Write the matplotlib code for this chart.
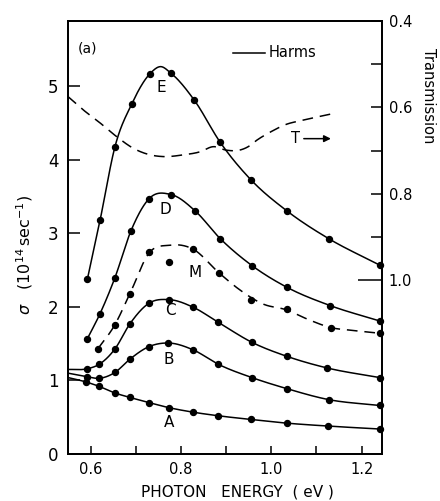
import numpy as np
import matplotlib
matplotlib.use("Agg")
import matplotlib.pyplot as plt

plt.rcParams['font.family'] = ['DejaVu Sans']

# ---- data ----
energy_A = [0.590, 0.619, 0.654, 0.687, 0.729, 0.774, 0.826, 0.883, 0.955, 1.034, 1.126, 1.240]
sigma_A = [0.98, 0.92, 0.83, 0.77, 0.70, 0.63, 0.57, 0.52, 0.47, 0.42, 0.38, 0.34]

energy_B = [0.593, 0.619, 0.654, 0.687, 0.729, 0.772, 0.826, 0.883, 0.957, 1.034, 1.127, 1.240]
sigma_B = [1.05, 1.03, 1.11, 1.29, 1.46, 1.51, 1.42, 1.22, 1.04, 0.89, 0.74, 0.66]

energy_C = [0.593, 0.619, 0.654, 0.687, 0.729, 0.774, 0.826, 0.883, 0.957, 1.034, 1.124, 1.240]
sigma_C = [1.16, 1.22, 1.43, 1.77, 2.05, 2.10, 2.00, 1.79, 1.52, 1.33, 1.17, 1.04]

energy_D = [0.593, 0.621, 0.654, 0.689, 0.729, 0.778, 0.831, 0.887, 0.958, 1.034, 1.130, 1.240]
sigma_D = [1.57, 1.91, 2.40, 3.03, 3.47, 3.53, 3.31, 2.93, 2.56, 2.27, 2.02, 1.81]

energy_E = [0.593, 0.621, 0.654, 0.691, 0.731, 0.778, 0.830, 0.887, 0.955, 1.034, 1.127, 1.240]
sigma_E = [2.38, 3.18, 4.18, 4.76, 5.17, 5.18, 4.81, 4.24, 3.73, 3.31, 2.93, 2.57]
peak_E = (0.755, 5.27)

# left-edge (0.55 eV) values of the A, B, C curves
left_energy = 0.55
left_sigma_ABC = [1.04, 1.10, 1.15]

energy_M = [0.616, 0.653, 0.687, 0.729, 0.774, 0.826, 0.885, 0.955, 1.034, 1.132, 1.240]
sigma_M = [1.43, 1.75, 2.18, 2.75, 2.61, 2.79, 2.46, 2.10, 1.97, 1.72, 1.65]
energy_M_curve = [0.616, 0.653, 0.687, 0.729, 0.774, 0.826, 0.885, 0.931, 0.982, 1.034, 1.078, 1.132, 1.182, 1.245]
sigma_M_curve = [1.43, 1.75, 2.18, 2.73, 2.84, 2.79, 2.46, 2.23, 2.04, 1.96, 1.84, 1.72, 1.68, 1.64]

energy_T = [0.55, 0.584, 0.621, 0.658, 0.695, 0.732, 0.761, 0.805, 0.842, 0.872,
            0.90, 0.93, 0.949, 0.968, 1.00, 1.034, 1.064, 1.134]
trans_T = [0.575, 0.606, 0.636, 0.668, 0.695, 0.710, 0.714, 0.710, 0.703, 0.691,
           0.699, 0.699, 0.691, 0.676, 0.656, 0.639, 0.631, 0.615]

curve_labels = ['A', 'B', 'C', 'D', 'E', 'M']
label_pos = [(0.774, 0.43), (0.774, 1.29), (0.776, 1.95), (0.766, 3.32), (0.757, 4.98), (0.831, 2.47)]

x_major = [0.6, 0.8, 1.0, 1.2]
x_minor = [0.7, 0.9, 1.1]
y_ticks = [0, 1, 2, 3, 4, 5]
t_major = [0.4, 0.6, 0.8, 1.0]
t_minor = [0.5, 0.7, 0.9]


def smooth(x, y, n=25):
    """Cubic Hermite curve through the given points (drawing only)."""
    x = np.asarray(x, float)
    y = np.asarray(y, float)
    m = np.gradient(y, x)
    xs, ys = [], []
    for i in range(len(x) - 1):
        h = x[i + 1] - x[i]
        t = np.linspace(0, 1, n, endpoint=False)
        h00 = 2 * t**3 - 3 * t**2 + 1
        h10 = t**3 - 2 * t**2 + t
        h01 = -2 * t**3 + 3 * t**2
        h11 = t**3 - t**2
        xs.append(x[i] + t * h)
        ys.append(h00 * y[i] + h10 * h * m[i] + h01 * y[i + 1] + h11 * h * m[i + 1])
    xs.append([x[-1]])
    ys.append([y[-1]])
    return np.concatenate(xs), np.concatenate(ys)


fig = plt.figure(figsize=(4.4, 5.01), dpi=100)
ax = fig.add_axes([0.1545, 0.0938, 0.7136, 0.8642])
ax.set_xlim(0.55, 1.245)
ax.set_ylim(0, 5.89)

lw = 1.1
ms = 4.3

for (ex, sg, lv) in [(energy_A, sigma_A, left_sigma_ABC[0]),
                     (energy_B, sigma_B, left_sigma_ABC[1]),
                     (energy_C, sigma_C, left_sigma_ABC[2])]:
    cx, cy = smooth([left_energy] + ex, [lv] + sg)
    ax.plot(cx, cy, color='black', lw=lw, clip_on=False)
    ax.plot(ex, sg, 'o', color='black', ms=ms, clip_on=False)

cx, cy = smooth(energy_D, sigma_D)
ax.plot(cx, cy, color='black', lw=lw)
ax.plot(energy_D, sigma_D, 'o', color='black', ms=ms, clip_on=False)

ex = list(energy_E)
ey = list(sigma_E)
k = 5
ex.insert(k, peak_E[0])
ey.insert(k, peak_E[1])
cx, cy = smooth(ex, ey)
ax.plot(cx, cy, color='black', lw=lw)
ax.plot(energy_E, sigma_E, 'o', color='black', ms=ms, clip_on=False)

cx, cy = smooth(energy_M_curve, sigma_M_curve)
ax.plot(cx, cy, color='black', lw=lw, dashes=(7, 4.5))
ax.plot(energy_M, sigma_M, 'o', color='black', ms=ms, clip_on=False)

for lab, (lx, ly) in zip(curve_labels, label_pos):
    ax.text(lx, ly, lab, fontsize=11, ha='center', va='center')

ax.text(0.594, 5.52, '(a)', fontsize=10, ha='center', va='center')
ax.plot([0.916, 0.987], [5.46, 5.46], color='black', lw=lw)
ax.text(0.995, 5.46, 'Harms', fontsize=10.5, ha='left', va='center')

ax.text(1.053, 4.29, 'T', fontsize=10.5, ha='center', va='center')
ax.annotate('', xy=(1.132, 4.29), xytext=(1.072, 4.29),
            arrowprops=dict(arrowstyle='-|>', color='black', lw=1.1,
                            mutation_scale=10, shrinkA=0, shrinkB=0))

ax.set_xticks(x_major)
ax.set_xticklabels(['0.6', '0.8', '1.0', '1.2'])
ax.set_xticks(x_minor, minor=True)
ax.set_yticks(y_ticks)
ax.set_yticklabels([str(v) for v in y_ticks])
ax.tick_params(axis='x', which='both', direction='in', length=6, width=1.1,
               labelsize=10.5, pad=6, top=False)
ax.tick_params(axis='y', which='both', direction='in', length=8.5, width=1.1,
               labelsize=12, pad=7, right=False)
for s in ax.spines.values():
    s.set_linewidth(1.3)

ax2 = ax.twinx()
ax2.set_ylim(1.403, 0.4)
cx, cy = smooth(energy_T, trans_T)
ax2.plot(cx, cy, color='black', lw=lw, dashes=(7, 4.5))
ax2.set_yticks(t_major)
ax2.set_yticklabels(['0.4', '0.6', '0.8', '1.0'])
ax2.set_yticks(t_minor, minor=True)
ax2.tick_params(axis='y', which='both', direction='in', length=8, width=1.1,
                labelsize=10.5, pad=5)
for tk, val in zip(ax2.yaxis.get_major_ticks(), t_major):
    if val == 1.0:
        tk.tick2line.set_markersize(17)
for s in ax2.spines.values():
    s.set_linewidth(1.3)

ax.text(-0.137, 0.46, r'$\sigma$   $(10^{14}\,\mathrm{sec}^{-1})$', transform=ax.transAxes,
        rotation=90, fontsize=11.5, ha='center', va='center')
ax.text(1.147, 0.827, 'Transmission', transform=ax.transAxes, rotation=-90,
        fontsize=10.5, ha='center', va='center')
ax.text(0.541, -0.088, 'PHOTON   ENERGY  ( eV )', transform=ax.transAxes,
        fontsize=11, ha='center', va='center')

fig.savefig('out.png', dpi=100)
